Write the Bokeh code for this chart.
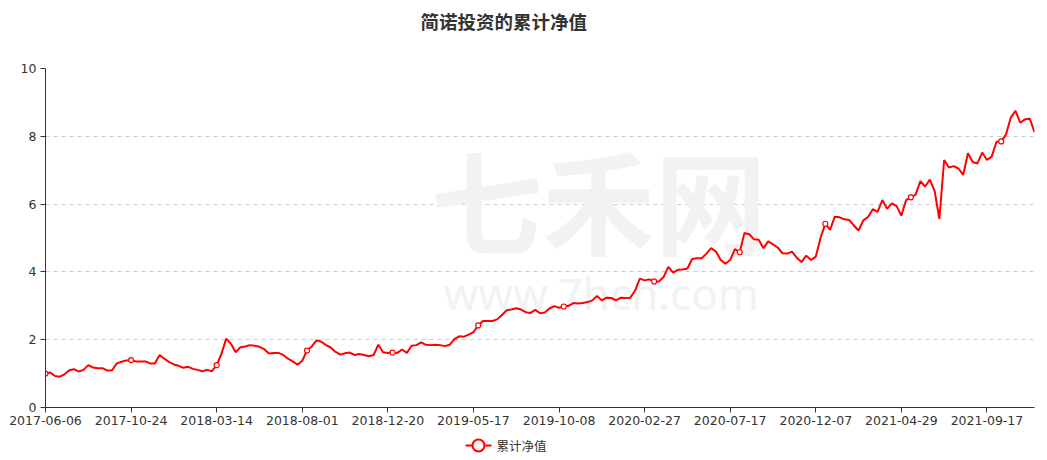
from bokeh.plotting import figure
from bokeh.layouts import column
from bokeh.models import (Range1d, FixedTicker, ColumnDataSource, CDSView, IndexFilter)
from bokeh.core.properties import value
from bokeh.embed import file_html
from bokeh.resources import INLINE

title_text = "简诺投资的累计净值"
series_name = "累计净值"
tick_labels = ["2017-06-06", "2017-10-24", "2018-03-14", "2018-08-01", "2018-12-20",
               "2019-05-17", "2019-10-08", "2020-02-27", "2020-07-17", "2020-12-07",
               "2021-04-29", "2021-09-17"]
label_step = 18  # samples between labelled categories
y_ticks = [0, 2, 4, 6, 8, 10]

nav = [
    1.00, 1.03, 0.93, 0.91, 0.98, 1.10, 1.13, 1.06, 1.11, 1.25, 1.18, 1.16, 1.16, 1.09, 1.10, 1.30, 1.35, 1.39,
    1.40, 1.36, 1.36, 1.36, 1.30, 1.30, 1.55, 1.44, 1.34, 1.27, 1.23, 1.17, 1.20, 1.14, 1.11, 1.07, 1.11, 1.07,
    1.25, 1.58, 2.03, 1.88, 1.63, 1.78, 1.80, 1.84, 1.82, 1.79, 1.72, 1.59, 1.61, 1.61, 1.55, 1.44, 1.36, 1.26,
    1.38, 1.68, 1.80, 1.98, 1.94, 1.84, 1.77, 1.64, 1.56, 1.60, 1.62, 1.55, 1.58, 1.55, 1.51, 1.55, 1.85, 1.63,
    1.61, 1.62, 1.61, 1.71, 1.61, 1.82, 1.84, 1.92, 1.85, 1.84, 1.85, 1.84, 1.81, 1.85, 2.02, 2.10, 2.09, 2.15,
    2.22, 2.42, 2.55, 2.55, 2.55, 2.60, 2.73, 2.87, 2.89, 2.93, 2.89, 2.81, 2.79, 2.88, 2.78, 2.80, 2.92, 2.99,
    2.94, 2.98, 3.00, 3.08, 3.07, 3.08, 3.11, 3.16, 3.29, 3.16, 3.24, 3.23, 3.16, 3.24, 3.23, 3.24, 3.45, 3.80,
    3.75, 3.78, 3.72, 3.72, 3.85, 4.15, 3.98, 4.06, 4.07, 4.10, 4.38, 4.40, 4.40, 4.54, 4.70, 4.60, 4.35, 4.24,
    4.35, 4.67, 4.58, 5.15, 5.11, 4.96, 4.95, 4.70, 4.90, 4.81, 4.72, 4.55, 4.54, 4.60, 4.42, 4.29, 4.48, 4.35,
    4.45, 5.00, 5.42, 5.24, 5.63, 5.61, 5.55, 5.53, 5.37, 5.22, 5.52, 5.62, 5.85, 5.77, 6.12, 5.86, 6.02, 5.94,
    5.66, 6.12, 6.20, 6.28, 6.68, 6.52, 6.72, 6.38, 5.56, 7.30, 7.08, 7.12, 7.05, 6.86, 7.50, 7.24, 7.20, 7.52,
    7.30, 7.40, 7.84, 7.85, 8.05, 8.55, 8.75, 8.40, 8.50, 8.52, 8.12,
]
marker_idx = [0, 18, 36, 55, 73, 91, 109, 128, 146, 164, 182, 201]

RED = "#ff0000"
TEXT = "#333333"
W = 1047
FRAME_L, FRAME_R = 45, 1034   # frames of the strips are aligned with the main frame
n = len(nav)
src = ColumnDataSource(dict(x=list(range(n)), y=nav))


def bare(height):
    f = figure(width=W, height=height, output_backend="svg", toolbar_location=None,
               title=None, x_range=Range1d(FRAME_L, FRAME_R), y_range=Range1d(0, height),
               min_border=0, min_border_left=0, min_border_right=0,
               min_border_top=0, min_border_bottom=0,
               x_axis_type=None, y_axis_type=None)
    f.outline_line_color = None
    f.grid.visible = False
    return f


# ---- title strip ----
t = bare(40)
t.text(x=[420], y=[20], text=[title_text], text_font=value("Noto Sans CJK SC"),
       text_font_size=value("18.5px"), text_font_style=value("bold"), text_color=TEXT,
       text_align="left", text_baseline="middle")

# ---- main chart ----
p = figure(width=W, height=395, output_backend="svg", toolbar_location=None,
           title=None, x_range=Range1d(0, n - 1), y_range=Range1d(0, 10),
           min_border_left=45, min_border_right=13, min_border_top=28, min_border_bottom=28)
p.outline_line_color = None

# watermark
p.text(x=[116.3], y=[6.17], text=["七禾网"], text_font=value("Noto Sans CJK SC"),
       text_font_size=value("112px"), text_font_style=value("bold"), text_color="#f2f2f2",
       text_align="center", text_baseline="middle")
p.text(x=[116.9], y=[3.39], text=["www.7hcn.com"], text_font=value("Noto Sans"),
       text_font_size=value("44px"), text_color="#f2f2f2", text_align="center",
       text_baseline="middle")

p.line("x", "y", source=src, line_color=RED, line_width=2)
p.scatter("x", "y", source=src, view=CDSView(filter=IndexFilter(marker_idx)),
          marker="circle", size=5, fill_color="white", line_color=RED, line_width=1.2)

p.xaxis.ticker = FixedTicker(ticks=[i * label_step for i in range(len(tick_labels))])
p.xaxis.major_label_overrides = {i * label_step: lab for i, lab in enumerate(tick_labels)}
p.yaxis.ticker = FixedTicker(ticks=y_ticks)
for ax in (p.xaxis, p.yaxis):
    ax.axis_line_color = TEXT
    ax.major_tick_line_color = TEXT
    ax.minor_tick_line_color = None
    ax.major_tick_out = 5
    ax.major_tick_in = 0
    ax.major_label_text_font = "DejaVu Sans"
    ax.major_label_text_font_size = "12.5px"
    ax.major_label_text_color = TEXT
p.xaxis.major_label_standoff = 3
p.yaxis.major_label_standoff = 4

p.xgrid.visible = False
p.ygrid.grid_line_color = "#cccccc"
p.ygrid.grid_line_dash = "4 4"

# ---- legend strip ----
lg = bare(25)
lg.line(x=[465, 491], y=[15, 15], line_color=RED, line_width=2)
lg.scatter(x=[478], y=[15], marker="circle", size=12, fill_color="white",
           line_color=RED, line_width=2)
lg.text(x=[496], y=[15], text=[series_name], text_font=value("Noto Sans CJK SC"),
        text_font_size=value("12.5px"), text_color=TEXT, text_align="left",
        text_baseline="middle")

layout = column(t, p, lg, spacing=0)
open("out.html", "w").write(file_html(layout, INLINE))
